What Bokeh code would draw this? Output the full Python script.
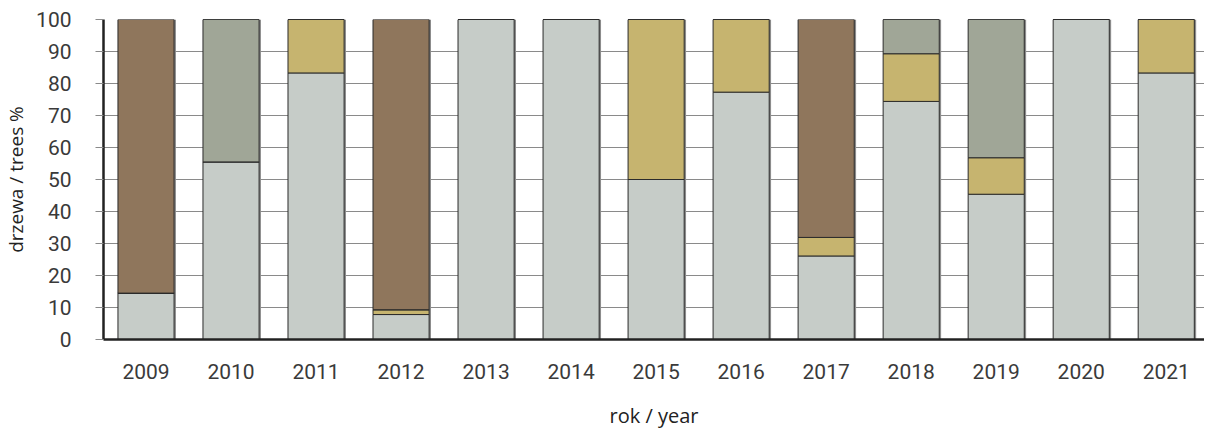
from bokeh.plotting import figure
from bokeh.models import ColumnDataSource, Range1d, FixedTicker, Title
from bokeh.transform import dodge
from bokeh.embed import file_html
from bokeh.resources import INLINE

years = ["2009", "2010", "2011", "2012", "2013", "2014", "2015",
         "2016", "2017", "2018", "2019", "2020", "2021"]
light = [14.5, 55.5, 83.3, 7.8, 100, 100, 50.0, 77.3, 26.1, 74.4, 45.4, 100, 83.3]
tan = [0, 0, 16.7, 1.5, 0, 0, 50.0, 22.7, 5.8, 14.9, 11.4, 0, 16.7]
greygreen = [0, 44.5, 0, 0, 0, 0, 0, 0, 0, 10.7, 43.2, 0, 0]
brown = [85.5, 0, 0, 90.7, 0, 0, 0, 0, 68.1, 0, 0, 0, 0]
yticks = [0, 10, 20, 30, 40, 50, 60, 70, 80, 90, 100]

xs = list(range(len(years)))
total = [a + b + c + d for a, b, c, d in zip(light, tan, greygreen, brown)]
src = ColumnDataSource(dict(x=xs, light=light, tan=tan, greygreen=greygreen,
                            brown=brown, total=total))

p = figure(frame_width=1101, frame_height=320, output_backend="svg", toolbar_location=None,
           x_range=Range1d(-0.5, 12.45), y_range=Range1d(0, 100),
           min_border_left=99, min_border_right=0, min_border_top=19, min_border_bottom=0)
p.outline_line_color = None
p.background_fill_color = "white"

# subtle right-side shadow of each bar
p.vbar(x=dodge("x", 0.022, range=p.x_range), top="total", bottom=0, width=0.66,
       source=src, fill_color="#8c8c8c", line_color=None)

p.vbar_stack(["light", "tan", "greygreen", "brown"], x="x", width=0.66, source=src,
             fill_color=["#c6ccc8", "#c6b46f", "#a0a697", "#8f765c"],
             line_color="#2b2b2b", line_width=1)

FONT_T = "Roboto"
FONT_L = "Open Sans"

p.xgrid.grid_line_color = None
p.ygrid.grid_line_color = "#8a8a8a"
p.ygrid.grid_line_width = 1.2
p.ygrid.ticker = FixedTicker(ticks=yticks)

p.yaxis.ticker = FixedTicker(ticks=yticks)
p.yaxis.axis_line_color = "#222222"
p.yaxis.axis_line_width = 2.5
p.yaxis.major_tick_out = 8
p.yaxis.major_tick_in = 0
p.yaxis.major_tick_line_color = "#8a8a8a"
p.yaxis.major_tick_line_width = 1.2
p.yaxis.minor_tick_line_color = None
p.yaxis.major_label_text_font = FONT_T
p.yaxis.major_label_text_font_size = "21px"
p.yaxis.major_label_text_color = "#3a3a3a"
p.yaxis.major_label_standoff = 24
p.yaxis.axis_label = "drzewa / trees %"
p.yaxis.axis_label_text_font = FONT_L
p.yaxis.axis_label_text_font_size = "19px"
p.yaxis.axis_label_text_font_style = "normal"
p.yaxis.axis_label_text_color = "#222222"
p.yaxis.axis_label_standoff = 4

p.xaxis.ticker = FixedTicker(ticks=xs)
p.xaxis.major_label_overrides = {i: y for i, y in zip(xs, years)}
p.xaxis.axis_line_color = "#222222"
p.xaxis.axis_line_width = 2.5
p.xaxis.major_tick_line_color = None
p.xaxis.minor_tick_line_color = None
p.xaxis.major_tick_out = 0
p.xaxis.major_tick_in = 0
p.xaxis.major_label_text_font = FONT_T
p.xaxis.major_label_text_font_size = "21px"
p.xaxis.major_label_text_color = "#3a3a3a"
p.xaxis.major_label_standoff = 24
p.xaxis.axis_label = "rok / year"
p.xaxis.axis_label_text_font = FONT_L
p.xaxis.axis_label_text_font_size = "20px"
p.xaxis.axis_label_text_font_style = "normal"
p.xaxis.axis_label_text_color = "#222222"
p.xaxis.axis_label_standoff = 20

cat = Title(text="Kategoria drzew (Category of trees)", align="left", offset=-104,
            text_font=FONT_L, text_font_size="20px", text_font_style="normal",
            text_color="#222222", standoff=-12)
p.add_layout(cat, "below")

open("out.html", "w").write(file_html(p, INLINE))
